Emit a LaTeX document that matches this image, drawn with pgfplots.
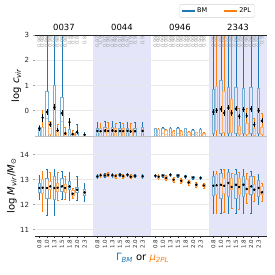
\documentclass[border=0pt]{standalone}
\usepackage{fontspec}
\setmainfont{DejaVu Sans}
\usepackage{pgfplots}
\pgfplotsset{compat=1.18}
\usepgfplotslibrary{statistics}
\definecolor{bmc}{HTML}{1F77B4}
\definecolor{tpc}{HTML}{FF7F0E}
\definecolor{shadec}{RGB}{229,229,250}
\pgfplotsset{
 bmbox/.style={draw=bmc, line width=0.6pt, boxplot/draw direction=y, boxplot/box extend=0.33, boxplot/whisker extend=0.22,
   boxplot/every box/.style={draw=bmc!60, line width=0.9pt},
   boxplot/every median/.style={draw=bmc!35, line width=0.6pt}},
 tpbox/.style={draw=tpc, line width=0.6pt, boxplot/draw direction=y, boxplot/box extend=0.33, boxplot/whisker extend=0.22,
   boxplot/every box/.style={draw=tpc!60, line width=0.9pt},
   boxplot/every median/.style={draw=tpc!35, line width=0.6pt}},
 myax/.style={scale only axis, width=232pt, xmin=0, xmax=30.8, axis line style={draw=none},
   tick align=outside, major tick length=2.5pt,
   tick style={gray!70, line width=0.6pt}, ytick pos=left, xtick pos=bottom,
   yticklabel style={font=\fontsize{7}{8}\selectfont, text=black!85},
   /pgf/number format/assume math mode=true},
 meanst/.style={only marks, mark=*, mark size=1pt, black, error bars/.cd, y dir=both, y explicit,
   error mark=none, error bar style={black, line width=0.6pt}},
}
\tikzset{tinyt/.style={rotate=90, anchor=east, font=\fontsize{5}{5}\selectfont, text=gray!75, inner sep=0pt},
 gridl/.style={gray!18, line width=0.7pt}}
\newcommand{\BX}[7]{\addplot[#1, boxplot prepared={draw position=#2, lower whisker=#3, lower quartile=#4, median=#5, upper quartile=#6, upper whisker=#7}] coordinates {};}
\begin{document}
\begin{tikzpicture}
% ---------------- top panel: log c_vir ----------------
\begin{axis}[myax, name=top, at={(35pt,139pt)}, anchor=south west, height=101pt,
  ymin=-1, ymax=3, ytick={0,1,2,3}, xtick=\empty,
  legend style={at={(axis description cs:0.7845,1.2376)}, anchor=center, draw=gray!35, rounded corners=1.5pt,
    font=\fontsize{6.5}{7}\selectfont, inner sep=1.5pt, /tikz/every even column/.append style={column sep=14pt}},
  legend columns=2,
  legend image code/.code={\draw[#1, line width=1.1pt] (0pt,0pt) -- (13pt,0pt);}]
\addlegendimage{draw=bmc}\addlegendentry{BM}
\addlegendimage{draw=tpc}\addlegendentry{2PL}
\fill[shadec] (axis cs:7.7,-1) rectangle (axis cs:15.4,3);
\fill[shadec] (axis cs:23.1,-1) rectangle (axis cs:30.8,3);
\draw[gridl] (axis cs:0,0) -- (axis cs:30.8,0);
\draw[gridl] (axis cs:0,1) -- (axis cs:30.8,1);
\draw[gridl] (axis cs:0,2) -- (axis cs:30.8,2);
% 0037
\BX{bmbox}{0.58}{-1}{-1}{-0.8}{-0.68}{-0.58}
\BX{tpbox}{1.01}{-1}{-1}{-0.85}{-0.68}{0.03}
\BX{bmbox}{1.58}{-1}{-1}{-0.3}{0.77}{3.5}
\BX{tpbox}{2.01}{-1}{-0.95}{-0.7}{-0.47}{-0.4}
\BX{bmbox}{2.58}{-1}{-1}{-0.2}{1.02}{3.5}
\BX{tpbox}{3.01}{-1}{-1}{-0.9}{-0.8}{-0.55}
\BX{bmbox}{3.58}{-1}{-1}{-0.4}{0.52}{3.5}
\BX{tpbox}{4.01}{-1}{-1}{-0.95}{-0.85}{-0.65}
\BX{bmbox}{4.58}{-1}{-1}{-0.9}{-0.75}{-0.28}
\BX{tpbox}{5.01}{-1}{-1}{-0.97}{-0.9}{-0.76}
\BX{bmbox}{5.58}{-1}{-1}{-0.95}{-0.85}{-0.55}
\BX{bmbox}{6.58}{-1}{-1}{-0.98}{-0.95}{-0.84}
% 0044
\BX{bmbox}{8.28}{-1}{-1}{-0.85}{-0.7}{-0.45}
\BX{tpbox}{8.71}{-1}{-1}{-0.86}{-0.72}{-0.5}
\BX{bmbox}{9.28}{-1}{-1}{-0.84}{-0.68}{-0.42}
\BX{tpbox}{9.71}{-1}{-1}{-0.86}{-0.7}{-0.47}
\BX{bmbox}{10.28}{-1}{-1}{-0.84}{-0.68}{-0.43}
\BX{tpbox}{10.71}{-1}{-1}{-0.86}{-0.72}{-0.48}
\BX{bmbox}{11.28}{-1}{-1}{-0.85}{-0.7}{-0.45}
\BX{tpbox}{11.71}{-1}{-1}{-0.86}{-0.72}{-0.5}
\BX{bmbox}{12.28}{-1}{-1}{-0.85}{-0.7}{-0.44}
\BX{tpbox}{12.71}{-1}{-1}{-0.87}{-0.73}{-0.5}
\BX{bmbox}{13.28}{-1}{-1}{-0.86}{-0.7}{-0.47}
\BX{bmbox}{14.28}{-1}{-1}{-0.85}{-0.67}{-0.45}
% 0946
\BX{bmbox}{15.98}{-1}{-1}{-0.9}{-0.71}{-0.68}
\BX{tpbox}{16.41}{-1}{-1}{-0.92}{-0.74}{-0.71}
\BX{bmbox}{16.98}{-1}{-1}{-0.9}{-0.69}{-0.66}
\BX{tpbox}{17.41}{-1}{-1}{-0.92}{-0.78}{-0.75}
\BX{bmbox}{17.98}{-1}{-1}{-0.9}{-0.69}{-0.66}
\BX{tpbox}{18.41}{-1}{-1}{-0.93}{-0.81}{-0.78}
\BX{bmbox}{18.98}{-1}{-1}{-0.9}{-0.69}{-0.66}
\BX{tpbox}{19.41}{-1}{-1}{-0.93}{-0.81}{-0.78}
\BX{bmbox}{19.98}{-1}{-1}{-0.9}{-0.71}{-0.68}
\BX{tpbox}{20.41}{-1}{-1}{-0.94}{-0.85}{-0.82}
\BX{bmbox}{20.98}{-1}{-1}{-0.92}{-0.78}{-0.75}
\BX{tpbox}{21.41}{-1}{-1}{-0.95}{-0.87}{-0.84}
\BX{bmbox}{21.98}{-1}{-1}{-0.91}{-0.74}{-0.71}
\BX{tpbox}{22.41}{-1}{-1}{-0.95}{-0.89}{-0.86}
% 2343
\BX{bmbox}{23.68}{-1}{-0.88}{-0.1}{0.85}{3.5}
\BX{tpbox}{24.11}{-1}{-0.8}{0.0}{0.95}{3.5}
\BX{bmbox}{24.68}{-1}{-0.88}{0.0}{1.2}{3.5}
\BX{tpbox}{25.11}{-1}{-0.85}{-0.1}{0.76}{3.5}
\BX{bmbox}{25.68}{-1}{-0.88}{0.05}{0.94}{3.5}
\BX{tpbox}{26.11}{-1}{-0.85}{-0.2}{0.46}{3.5}
\BX{bmbox}{26.68}{-1}{-0.88}{0.0}{0.94}{3.5}
\BX{tpbox}{27.11}{-1}{-0.95}{-0.8}{-0.62}{0.08}
\BX{bmbox}{27.68}{-1}{-0.88}{0.0}{0.9}{3.5}
\BX{tpbox}{28.11}{-1}{-0.95}{-0.75}{-0.5}{0.1}
\BX{bmbox}{28.68}{-1}{-0.88}{0.0}{0.94}{3.5}
\BX{tpbox}{29.11}{-1}{-0.97}{-0.85}{-0.7}{-0.3}
\BX{bmbox}{29.68}{-1}{-0.88}{-0.05}{0.9}{3.5}
\BX{tpbox}{30.11}{-1}{-0.95}{-0.85}{-0.65}{-0.1}
% means
\addplot[meanst] coordinates {(0.58,-0.7) +- (0,0.1) (1.58,-0.05) +- (0,0.12) (2.58,0.13) +- (0,0.12) (3.58,-0.1) +- (0,0.12) (4.58,-0.45) +- (0,0.15) (5.58,-0.85) +- (0,0.08) (6.58,-0.95) +- (0,0.03)
 (8.28,-0.8) +- (0,0.05) (9.28,-0.79) +- (0,0.05) (10.28,-0.79) +- (0,0.05) (11.28,-0.8) +- (0,0.05) (12.28,-0.8) +- (0,0.05) (13.28,-0.81) +- (0,0.05) (14.28,-0.8) +- (0,0.05)
 (23.68,-0.05) +- (0,0.1) (24.68,0.07) +- (0,0.1) (25.68,0.11) +- (0,0.1) (26.68,0.08) +- (0,0.1) (27.68,0.04) +- (0,0.1) (28.68,0.07) +- (0,0.1) (29.68,0.0) +- (0,0.1)};
\addplot[meanst] coordinates {(1.01,-0.28) +- (0,0.15) (2.01,-0.55) +- (0,0.1) (3.01,-0.78) +- (0,0.08) (4.01,-0.9) +- (0,0.05) (5.01,-0.93) +- (0,0.04)
 (8.71,-0.81) +- (0,0.05) (9.71,-0.8) +- (0,0.05) (10.71,-0.81) +- (0,0.05) (11.71,-0.81) +- (0,0.05) (12.71,-0.82) +- (0,0.05)
 (24.11,0.02) +- (0,0.1) (25.11,-0.09) +- (0,0.1) (26.11,-0.09) +- (0,0.1) (27.11,-0.22) +- (0,0.1) (28.11,-0.2) +- (0,0.1) (29.11,-0.55) +- (0,0.1) (30.11,-0.4) +- (0,0.1)};
% small grey annotations
\node[tinyt] at (axis cs:0.58,2.95) {0.96}; \node[tinyt] at (axis cs:1.01,2.95) {0.98};
\node[tinyt] at (axis cs:1.58,2.95) {0.96}; \node[tinyt] at (axis cs:2.01,2.95) {0.98};
\node[tinyt] at (axis cs:2.58,2.95) {0.96}; \node[tinyt] at (axis cs:3.01,2.95) {0.98};
\node[tinyt] at (axis cs:3.58,2.95) {0.96}; \node[tinyt] at (axis cs:4.01,2.95) {0.98};
\node[tinyt] at (axis cs:4.58,2.95) {0.9}; \node[tinyt] at (axis cs:5.01,2.95) {0.9};
\node[tinyt] at (axis cs:5.58,2.95) {0.8}; \node[tinyt] at (axis cs:6.58,2.95) {0.8};
\node[tinyt] at (axis cs:8.28,2.95) {0.97}; \node[tinyt] at (axis cs:8.71,2.95) {0.9};
\node[tinyt] at (axis cs:9.28,2.95) {0.97}; \node[tinyt] at (axis cs:9.71,2.95) {0.98};
\node[tinyt] at (axis cs:10.28,2.95) {0.97}; \node[tinyt] at (axis cs:10.71,2.95) {0.98};
\node[tinyt] at (axis cs:11.28,2.95) {0.97}; \node[tinyt] at (axis cs:11.71,2.95) {0.98};
\node[tinyt] at (axis cs:12.28,2.95) {0.97}; \node[tinyt] at (axis cs:12.71,2.95) {0.9};
\node[tinyt] at (axis cs:13.28,2.95) {0.9}; \node[tinyt] at (axis cs:14.28,2.95) {0.9};
\node[tinyt] at (axis cs:15.98,2.95) {0.99}; \node[tinyt] at (axis cs:16.41,2.95) {0.98};
\node[tinyt] at (axis cs:16.98,2.95) {0.99}; \node[tinyt] at (axis cs:17.41,2.95) {0.98};
\node[tinyt] at (axis cs:17.98,2.95) {0.99}; \node[tinyt] at (axis cs:18.41,2.95) {0.98};
\node[tinyt] at (axis cs:18.98,2.95) {0.99}; \node[tinyt] at (axis cs:19.41,2.95) {0.98};
\node[tinyt] at (axis cs:19.98,2.95) {0.99}; \node[tinyt] at (axis cs:20.41,2.95) {0.98};
\node[tinyt] at (axis cs:20.98,2.95) {0.99}; \node[tinyt] at (axis cs:21.41,2.95) {0.98};
\node[tinyt] at (axis cs:21.98,2.95) {0.99}; \node[tinyt] at (axis cs:22.41,2.95) {0.98};
\node[tinyt] at (axis cs:23.68,2.95) {0.95}; \node[tinyt] at (axis cs:24.11,2.95) {0.96};
\node[tinyt] at (axis cs:24.68,2.95) {0.95}; \node[tinyt] at (axis cs:25.11,2.95) {0.96};
\node[tinyt] at (axis cs:25.68,2.95) {0.95}; \node[tinyt] at (axis cs:26.11,2.95) {0.96};
\node[tinyt] at (axis cs:26.68,2.95) {0.95}; \node[tinyt] at (axis cs:27.11,2.95) {0.96};
\node[tinyt] at (axis cs:27.68,2.95) {0.95}; \node[tinyt] at (axis cs:28.11,2.95) {0.96};
\node[tinyt] at (axis cs:28.68,2.95) {0.95}; \node[tinyt] at (axis cs:29.11,2.95) {0.96};
\node[tinyt] at (axis cs:29.68,2.95) {0.95}; \node[tinyt] at (axis cs:30.11,2.95) {0.9};
\end{axis}
% ---------------- bottom panel: log M_vir ----------------
\begin{axis}[myax, at={(35pt,39pt)}, anchor=south west, height=100pt,
  ymin=10.75, ymax=14.75, ytick={11,12,13,14},
  xtick={0.58,1.58,2.58,3.58,4.58,5.58,6.58,8.28,9.28,10.28,11.28,12.28,13.28,14.28,15.98,16.98,17.98,18.98,19.98,20.98,21.98,23.68,24.68,25.68,26.68,27.68,28.68,29.68},
  xticklabels={0.8,1.0,1.3,1.5,1.8,2.0,2.3,0.8,1.0,1.3,1.5,1.8,2.0,2.3,0.8,1.0,1.3,1.5,1.8,2.0,2.3,0.8,1.0,1.3,1.5,1.8,2.0,2.3},
  xticklabel style={rotate=90, anchor=east, font=\fontsize{5.5}{6}\selectfont, text=black!85, inner sep=1pt},
  x tick style={black!80}]
\fill[shadec] (axis cs:7.7,10.75) rectangle (axis cs:15.4,14.75);
\fill[shadec] (axis cs:23.1,10.75) rectangle (axis cs:30.8,14.75);
\draw[gridl] (axis cs:0,11) -- (axis cs:30.8,11);
\draw[gridl] (axis cs:0,12) -- (axis cs:30.8,12);
\draw[gridl] (axis cs:0,13) -- (axis cs:30.8,13);
\draw[gridl] (axis cs:0,14) -- (axis cs:30.8,14);
% 0037
\BX{bmbox}{0.58}{12.2}{12.5}{12.68}{12.84}{13.16}
\BX{tpbox}{1.01}{11.73}{12.47}{12.68}{13.0}{13.33}
\BX{bmbox}{1.58}{11.56}{12.27}{12.68}{13.07}{13.4}
\BX{tpbox}{2.01}{12.27}{12.6}{12.73}{12.93}{13.29}
\BX{bmbox}{2.58}{11.56}{12.23}{12.68}{13.13}{13.43}
\BX{tpbox}{3.01}{12.17}{12.53}{12.7}{12.87}{13.29}
\BX{bmbox}{3.58}{12.23}{12.53}{12.75}{13.07}{13.33}
\BX{tpbox}{4.01}{12.2}{12.49}{12.65}{12.8}{13.13}
\BX{bmbox}{4.58}{12.17}{12.6}{12.78}{12.93}{13.29}
\BX{tpbox}{5.01}{12.27}{12.36}{12.45}{12.56}{12.67}
\BX{bmbox}{5.58}{12.17}{12.51}{12.6}{12.71}{13.13}
\BX{bmbox}{6.58}{12.13}{12.36}{12.48}{12.6}{12.87}
% 0044
\BX{bmbox}{8.28}{13.06}{13.10}{13.13}{13.16}{13.20}
\BX{tpbox}{8.71}{13.10}{13.14}{13.18}{13.22}{13.26}
\BX{bmbox}{9.28}{13.10}{13.14}{13.17}{13.20}{13.24}
\BX{tpbox}{9.71}{13.12}{13.16}{13.20}{13.24}{13.28}
\BX{bmbox}{10.28}{13.11}{13.15}{13.18}{13.21}{13.25}
\BX{tpbox}{10.71}{13.07}{13.11}{13.15}{13.19}{13.23}
\BX{bmbox}{11.28}{13.13}{13.17}{13.20}{13.23}{13.27}
\BX{tpbox}{11.71}{13.06}{13.10}{13.14}{13.18}{13.22}
\BX{bmbox}{12.28}{13.13}{13.17}{13.20}{13.23}{13.27}
\BX{tpbox}{12.71}{13.04}{13.08}{13.12}{13.16}{13.20}
\BX{bmbox}{13.28}{13.08}{13.12}{13.15}{13.18}{13.22}
\BX{bmbox}{14.28}{13.07}{13.11}{13.14}{13.17}{13.21}
% 0946
\BX{bmbox}{15.98}{13.10}{13.13}{13.16}{13.19}{13.22}
\BX{tpbox}{16.41}{13.02}{13.07}{13.12}{13.17}{13.22}
\BX{bmbox}{16.98}{13.11}{13.14}{13.17}{13.20}{13.23}
\BX{tpbox}{17.41}{12.97}{13.02}{13.07}{13.12}{13.17}
\BX{bmbox}{17.98}{13.14}{13.17}{13.20}{13.23}{13.26}
\BX{tpbox}{18.41}{12.90}{12.95}{13.00}{13.05}{13.10}
\BX{bmbox}{18.98}{13.11}{13.14}{13.17}{13.20}{13.23}
\BX{tpbox}{19.41}{12.86}{12.91}{12.96}{13.01}{13.06}
\BX{bmbox}{19.98}{13.07}{13.10}{13.13}{13.16}{13.19}
\BX{tpbox}{20.41}{12.79}{12.84}{12.89}{12.94}{12.99}
\BX{bmbox}{20.98}{13.03}{13.06}{13.09}{13.12}{13.15}
\BX{tpbox}{21.41}{12.70}{12.75}{12.80}{12.85}{12.90}
\BX{bmbox}{21.98}{13.01}{13.04}{13.07}{13.10}{13.13}
\BX{tpbox}{22.41}{12.67}{12.72}{12.77}{12.82}{12.87}
% 2343
\BX{bmbox}{23.68}{11.64}{12.36}{12.76}{13.13}{13.33}
\BX{tpbox}{24.11}{11.64}{12.4}{12.8}{13.2}{13.35}
\BX{bmbox}{24.68}{11.64}{12.27}{12.8}{13.27}{13.43}
\BX{tpbox}{25.11}{11.7}{12.45}{12.78}{13.07}{13.4}
\BX{bmbox}{25.68}{11.64}{12.33}{12.87}{13.29}{13.43}
\BX{tpbox}{26.11}{11.87}{12.6}{12.71}{13.07}{13.27}
\BX{bmbox}{26.68}{11.64}{12.27}{12.8}{13.2}{13.43}
\BX{tpbox}{27.11}{11.8}{12.4}{12.72}{13.07}{13.29}
\BX{bmbox}{27.68}{11.64}{12.33}{12.8}{13.13}{13.4}
\BX{tpbox}{28.11}{12.07}{12.47}{12.63}{13.0}{13.27}
\BX{bmbox}{28.68}{11.64}{12.4}{12.73}{13.13}{13.33}
\BX{tpbox}{29.11}{12.13}{12.47}{12.6}{12.8}{13.13}
\BX{bmbox}{29.68}{12.0}{12.33}{12.67}{12.97}{13.2}
\BX{tpbox}{30.11}{12.13}{12.4}{12.49}{12.73}{12.87}
% means
\addplot[meanst] coordinates {(0.58,12.67) +- (0,0.04) (1.58,12.67) +- (0,0.04) (2.58,12.67) +- (0,0.04) (3.58,12.73) +- (0,0.04) (4.58,12.73) +- (0,0.04) (5.58,12.6) +- (0,0.04) (6.58,12.49) +- (0,0.04)
 (8.28,13.13) +- (0,0.03) (9.28,13.17) +- (0,0.03) (10.28,13.18) +- (0,0.03) (11.28,13.2) +- (0,0.03) (12.28,13.2) +- (0,0.03) (13.28,13.15) +- (0,0.03) (14.28,13.14) +- (0,0.03)
 (15.98,13.16) +- (0,0.03) (16.98,13.17) +- (0,0.03) (17.98,13.2) +- (0,0.03) (18.98,13.17) +- (0,0.03) (19.98,13.13) +- (0,0.03) (20.98,13.09) +- (0,0.03) (21.98,13.07) +- (0,0.03)
 (23.68,12.76) +- (0,0.04) (24.68,12.8) +- (0,0.04) (25.68,12.87) +- (0,0.04) (26.68,12.8) +- (0,0.04) (27.68,12.8) +- (0,0.04) (28.68,12.73) +- (0,0.04) (29.68,12.67) +- (0,0.04)};
\addplot[meanst] coordinates {(1.01,12.68) +- (0,0.04) (2.01,12.73) +- (0,0.04) (3.01,12.68) +- (0,0.04) (4.01,12.67) +- (0,0.04) (5.01,12.44) +- (0,0.04)
 (8.71,13.18) +- (0,0.03) (9.71,13.2) +- (0,0.03) (10.71,13.15) +- (0,0.03) (11.71,13.14) +- (0,0.03) (12.71,13.12) +- (0,0.03)
 (16.41,13.12) +- (0,0.03) (17.41,13.07) +- (0,0.03) (18.41,13.0) +- (0,0.03) (19.41,12.96) +- (0,0.03) (20.41,12.89) +- (0,0.03) (21.41,12.8) +- (0,0.03) (22.41,12.77) +- (0,0.03)
 (24.11,12.78) +- (0,0.04) (25.11,12.76) +- (0,0.04) (26.11,12.71) +- (0,0.04) (27.11,12.71) +- (0,0.04) (28.11,12.63) +- (0,0.04) (29.11,12.6) +- (0,0.04) (30.11,12.49) +- (0,0.04)};
\end{axis}
% frame lines
\draw[black!85, line width=0.8pt] (35pt,240pt) -- (267pt,240pt);
\draw[gray!50, line width=0.8pt] (35pt,139pt) -- (267pt,139pt);
\draw[black!85, line width=0.8pt] (35pt,39pt) -- (267pt,39pt);
% group titles
\node[anchor=base, font=\fontsize{8.5}{10}\selectfont] at (64pt,244pt) {0037};
\node[anchor=base, font=\fontsize{8.5}{10}\selectfont] at (122pt,244pt) {0044};
\node[anchor=base, font=\fontsize{8.5}{10}\selectfont] at (180pt,244pt) {0946};
\node[anchor=base, font=\fontsize{8.5}{10}\selectfont] at (238pt,244pt) {2343};
% axis labels
\node[rotate=90, anchor=base, font=\fontsize{10}{12}\selectfont, inner sep=0pt] at (19pt,189.5pt) {log \textit{c}\textsubscript{\textit{vir}}};
\node[rotate=90, anchor=base, font=\fontsize{10}{12}\selectfont, inner sep=0pt] at (14.5pt,89pt) {log \textit{M}\textsubscript{\textit{vir}}/\textit{M}\textsubscript{⊙}};
\node[anchor=base, font=\fontsize{10}{12}\selectfont, inner sep=0pt] at (142.5pt,14pt) {\textcolor{bmc}{Γ\textsubscript{\itshape BM}} or \textcolor{tpc}{\itshape μ\textsubscript{2PL}}};
\pgfresetboundingbox
\path[use as bounding box] (0,0) rectangle (275pt,275pt);
\end{tikzpicture}
\end{document}
